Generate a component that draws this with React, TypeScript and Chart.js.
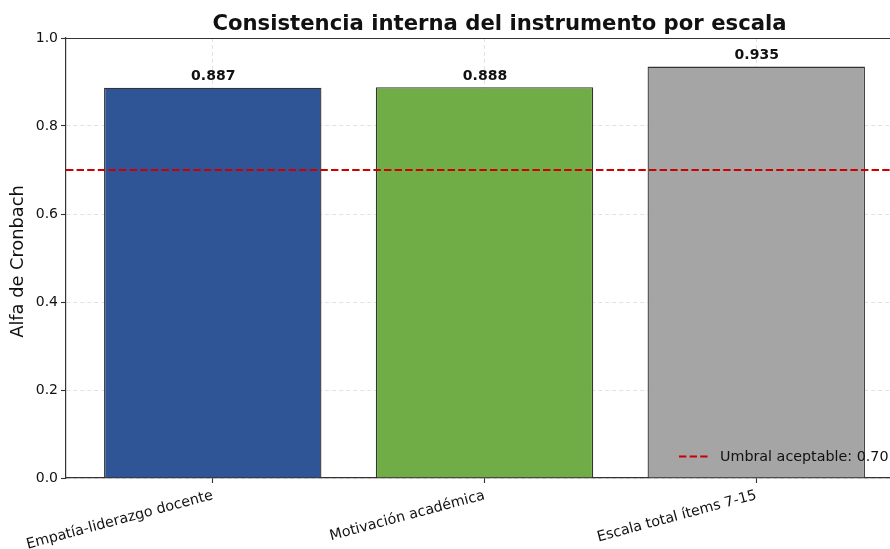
import React, { useEffect, useRef } from "react";
import { Chart, registerables } from "chart.js";

Chart.register(...registerables);

const categories = ["Empatía-liderazgo docente", "Motivación académica", "Escala total ítems 7-15"];
const alphaValues = [0.887, 0.888, 0.935];
const barColors = ["#2F5597", "#70AD47", "#A5A5A5"];
const threshold = 0.7;
const thresholdLabel = "Umbral aceptable: 0.70";
const yTicks = [0, 0.2, 0.4, 0.6, 0.8, 1.0];
const titleText = "Consistencia interna del instrumento por escala";
const yTitle = "Alfa de Cronbach";

const FONT = "'DejaVu Sans', sans-serif";
const X_MIN = -0.54;
const X_MAX = 2.54;

export default function App() {
  const ref = useRef<HTMLCanvasElement>(null);

  useEffect(() => {
    const canvas = ref.current;
    if (!canvas) return;

    const overlay = {
      id: "overlay",
      afterDraw(chart: any) {
        const ctx = chart.ctx;
        const area = chart.chartArea;
        const xs = chart.scales.x;
        const ys = chart.scales.y;
        ctx.save();
        // top spine
        ctx.strokeStyle = "#333";
        ctx.lineWidth = 1.2;
        ctx.beginPath();
        ctx.moveTo(area.left, area.top + 0.5);
        ctx.lineTo(area.right, area.top + 0.5);
        ctx.stroke();
        // value labels
        ctx.fillStyle = "#111";
        ctx.font = `bold 14px ${FONT}`;
        ctx.textAlign = "center";
        ctx.textBaseline = "bottom";
        alphaValues.forEach((v, i) => {
          ctx.fillText(v.toFixed(3), xs.getPixelForValue(i) + 0.5, ys.getPixelForValue(v + 0.01));
        });
        // title
        ctx.font = `bold 21.2px ${FONT}`;
        ctx.textBaseline = "alphabetic";
        ctx.fillText(titleText, area.left + 433.5, 30);
        // y title
        ctx.save();
        ctx.translate(18.5, (area.top + area.bottom) / 2 + 3.5);
        ctx.rotate(-Math.PI / 2);
        ctx.font = `17.8px ${FONT}`;
        ctx.textBaseline = "middle";
        ctx.fillText(yTitle, 0, 0);
        ctx.restore();
        // legend
        const ly = area.bottom - 21.5;
        const lx = area.right - 224;
        ctx.strokeStyle = "#CC0000";
        ctx.lineWidth = 2;
        ctx.setLineDash([7.4, 3.2]);
        ctx.beginPath();
        ctx.moveTo(lx, ly);
        ctx.lineTo(lx + 29, ly);
        ctx.stroke();
        ctx.setLineDash([]);
        ctx.fillStyle = "#111";
        ctx.font = `14.3px ${FONT}`;
        ctx.textAlign = "left";
        ctx.textBaseline = "middle";
        ctx.fillText(thresholdLabel, lx + 41, ly + 1);
        ctx.restore();
      },
    };

    const gridOpts = {
      color: "rgba(160,160,160,0.3)",
      lineWidth: 1,
      offset: false,
      tickColor: "#333",
      tickLength: 5,
      tickWidth: 1.1,
      tickBorderDash: [],
    };

    const chart = new Chart(canvas, {
      data: {
        datasets: [
          {
            type: "line",
            label: thresholdLabel,
            data: [
              { x: X_MIN, y: threshold },
              { x: X_MAX, y: threshold },
            ],
            borderColor: "#CC0000",
            borderWidth: 2,
            borderDash: [7.4, 3.2],
            pointRadius: 0,
            order: 0,
          },
          {
            type: "bar",
            label: "Alfa",
            data: alphaValues.map((v, i) => ({ x: i, y: v })),
            backgroundColor: barColors,
            borderColor: "#333333",
            borderWidth: 1.3,
            barPercentage: 0.8,
            categoryPercentage: 1,
            order: 1,
          },
        ],
      } as any,
      options: {
        responsive: false,
        animation: false,
        layout: { padding: { left: 0, top: 38, right: 17, bottom: 0 } },
        plugins: {
          legend: { display: false },
          title: { display: false },
          tooltip: { enabled: false },
        },
        scales: {
          x: {
            type: "linear",
            min: X_MIN,
            max: X_MAX,
            offset: false,
            z: 1,
            afterBuildTicks: (s: any) => {
              s.ticks = categories.map((_, i) => ({ value: i }));
            },
            afterFit: (s: any) => {
              s.height = 71;
              s.paddingLeft = 0;
              s.paddingRight = 0;
            },
            ticks: {
              autoSkip: false,
              minRotation: 15,
              maxRotation: 15,
              padding: 4,
              color: "#111",
              font: { family: FONT, size: 14.3 },
              callback: (v: any) => categories[v] ?? "",
            },
            grid: gridOpts,
            border: { color: "#333", width: 1.2, dash: [4, 3] },
          },
          y: {
            min: 0,
            max: 1,
            z: 1,
            afterBuildTicks: (s: any) => {
              s.ticks = yTicks.map((v) => ({ value: v }));
            },
            afterFit: (s: any) => {
              s.width = 66;
              s.paddingTop = 0;
              s.paddingBottom = 0;
            },
            ticks: {
              padding: 3,
              color: "#111",
              font: { family: FONT, size: 14 },
              callback: (v: any) => Number(v).toFixed(1),
            },
            grid: gridOpts,
            border: { color: "#333", width: 1.2, dash: [4, 3] },
          },
        },
      } as any,
      plugins: [overlay],
    });
    return () => chart.destroy();
  }, []);

  return (
    <div style={{ position: "absolute", left: 0, top: 0, width: 890, height: 549, overflow: "hidden", background: "#fff" }}>
      <canvas ref={ref} width={920} height={549} style={{ display: "block", width: 920, height: 549 }} />
    </div>
  );
}
